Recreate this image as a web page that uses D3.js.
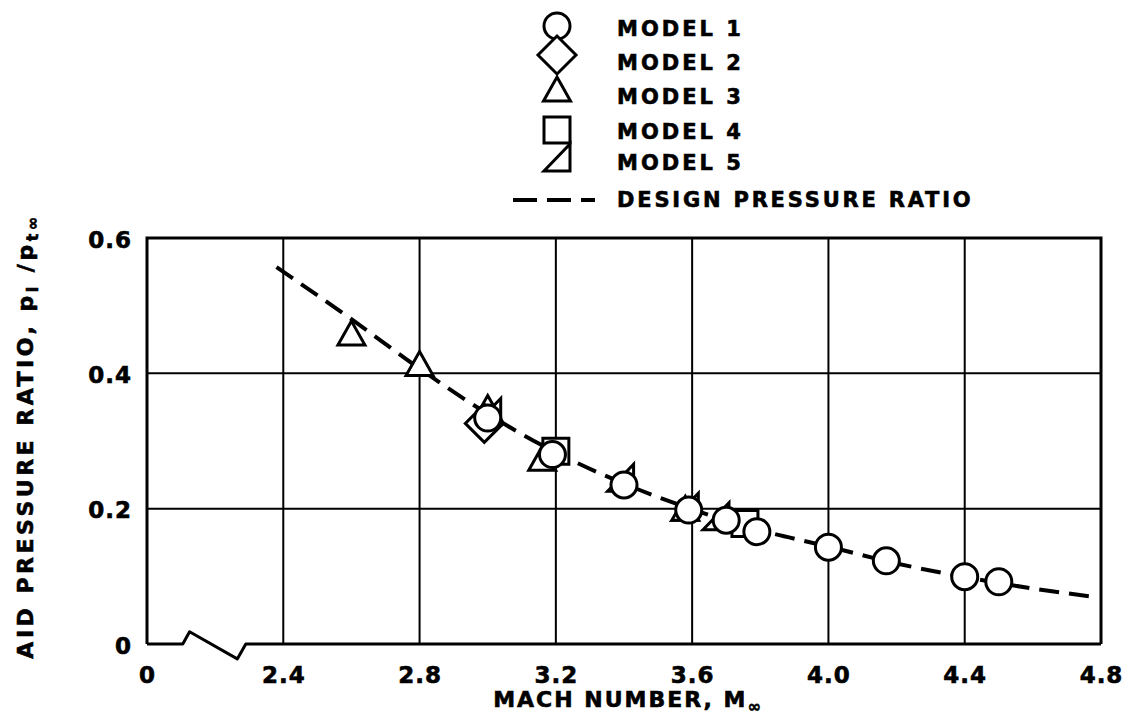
<!DOCTYPE html>
<meta charset="utf-8">
<style>
    html, body {
        margin: 0;
        background: white;
    }

    text {
        font-family: "DejaVu Sans", sans-serif;
        font-weight: bold;
        fill: black;
        stroke: black;
        stroke-width: 0.6px;
    }

    .grid line {
        stroke: black;
        stroke-width: 2;
    }

    .marker {
        fill: white;
        stroke: black;
        stroke-width: 3;
        stroke-linejoin: miter;
    }
</style>
<div id="chart"></div>
<script src="https://d3js.org/d3.v7.min.js"></script>
<script>
    // data
    var xTicks = [2.0, 2.4, 2.8, 3.2, 3.6, 4.0, 4.4, 4.8];
    var xTickLabels = ["0", "2.4", "2.8", "3.2", "3.6", "4.0", "4.4", "4.8"];
    var yTicks = [0, 0.2, 0.4, 0.6];
    var yTickLabels = ["0", "0.2", "0.4", "0.6"];

    var model1 = [[3.0, 0.334], [3.19, 0.28], [3.4, 0.235], [3.59, 0.198], [3.7, 0.183], [3.79, 0.166],
                  [4.0, 0.143], [4.17, 0.123], [4.4, 0.0995], [4.5, 0.092]];
    var model2 = [[2.99, 0.326]];
    var model3 = [[2.6, 0.455], [2.8, 0.41], [3.0, 0.345], [3.16, 0.27], [3.58, 0.196]];
    var model4 = [[3.2, 0.285], [3.755, 0.178]];
    var model5 = [[3.0, 0.342], [3.39, 0.245], [3.58, 0.202], [3.67, 0.188]];

    var designMach = [2.38, 2.6, 2.8, 3.0, 3.2, 3.4, 3.6, 3.8, 4.0, 4.2, 4.4, 4.6, 4.79];
    var designRatio = [0.557, 0.48, 0.407, 0.34, 0.283, 0.237, 0.199, 0.168, 0.144, 0.119, 0.099, 0.082, 0.069];

    // zig-zag axis break between 0 and 2.4
    var breakMach = [2.0, 2.105, 2.125, 2.265, 2.29, 4.8];
    var breakRatio = [0, 0, 0.018, -0.022, 0, 0];

    var legendLabels = ["MODEL 1", "MODEL 2", "MODEL 3", "MODEL 4", "MODEL 5", "DESIGN PRESSURE RATIO"];

    var width = 1130, height = 726;

    var svg = d3.select("#chart")
        .append("svg")
        .attr("width", width)
        .attr("height", height);

    svg.append("rect")
        .attr("width", width)
        .attr("height", height)
        .attr("fill", "white");

    var x = d3.scaleLinear().domain([2.0, 4.8]).range([147, 1101]);
    var y = d3.scaleLinear().domain([0, 0.6]).range([644, 238]);

    // marker shapes, drawn around 0,0
    var shapes = {
        circle: function(g) { g.append("circle").attr("class", "marker").attr("r", 13); },
        diamond: function(g) { g.append("path").attr("class", "marker").attr("d", "M0,-19L19,0L0,19L-19,0Z"); },
        triangle: function(g) { g.append("path").attr("class", "marker").attr("d", "M0,-15L13.5,9L-13.5,9Z"); },
        square: function(g) { g.append("path").attr("class", "marker").attr("d", "M-13,-13H13V13H-13Z"); },
        wedge: function(g) { g.append("path").attr("class", "marker").attr("d", "M13,-14V13H-13Z"); }
    };

    // grid lines
    var grid = svg.append("g").attr("class", "grid");
    grid.selectAll(".vx")
        .data(xTicks.slice(1, -1))
        .enter().append("line")
        .attr("x1", function(d) { return x(d); })
        .attr("x2", function(d) { return x(d); })
        .attr("y1", y(0))
        .attr("y2", y(0.6));
    grid.selectAll(".hy")
        .data(yTicks.slice(1, -1))
        .enter().append("line")
        .attr("x1", x(2.0))
        .attr("x2", x(4.8))
        .attr("y1", function(d) { return y(d); })
        .attr("y2", function(d) { return y(d); });

    // frame: left, top, right, and the broken bottom axis
    svg.append("path")
        .attr("d", "M" + x(2.0) + "," + y(0) + "V" + y(0.6) + "H" + x(4.8) + "V" + y(0))
        .attr("fill", "none")
        .attr("stroke", "black")
        .attr("stroke-width", 3);
    svg.append("path")
        .datum(d3.zip(breakMach, breakRatio))
        .attr("d", d3.line().x(function(d) { return x(d[0]); }).y(function(d) { return y(d[1]); }))
        .attr("fill", "none")
        .attr("stroke", "black")
        .attr("stroke-width", 3)
        .attr("stroke-linejoin", "round");

    // axes (labels only)
    var xAxis = svg.append("g")
        .attr("transform", "translate(0," + (y(0) + 28) + ")")
        .call(d3.axisBottom(x).tickValues(xTicks).tickSize(0)
            .tickFormat(function(d, i) { return xTickLabels[i]; }));
    var yAxis = svg.append("g")
        .attr("transform", "translate(" + (x(2.0) - 12) + ",0)")
        .call(d3.axisLeft(y).tickValues(yTicks).tickSize(0)
            .tickFormat(function(d, i) { return yTickLabels[i]; }));
    [xAxis, yAxis].forEach(function(a) {
        a.select(".domain").remove();
        a.selectAll("text")
            .attr("font-family", null)
            .attr("fill", null)
            .style("font-size", "23px")
            .style("letter-spacing", "1px");
    });
    xAxis.selectAll("text").attr("dy", "0.36em");
    yAxis.selectAll("text").attr("dy", "0.4em");

    // axis titles
    var xTitle = svg.append("text")
        .attr("x", (x(2.0) + x(4.8)) / 2 + 4)
        .attr("y", 707)
        .attr("text-anchor", "middle")
        .style("font-size", "22px")
        .style("letter-spacing", "2px");
    xTitle.append("tspan").text("MACH NUMBER, M");
    xTitle.append("tspan").attr("dy", 5).style("font-size", "16px").text("∞");

    var yTitle = svg.append("text")
        .attr("transform", "translate(33," + ((y(0) + y(0.6)) / 2 - 5) + ") rotate(-90)")
        .attr("text-anchor", "middle")
        .style("font-size", "22px")
        .style("letter-spacing", "3.5px");
    yTitle.append("tspan").text("AID PRESSURE RATIO,  p");
    yTitle.append("tspan").attr("dy", 5).style("font-size", "16px").text("i");
    yTitle.append("tspan").attr("dy", -5).text(" /p");
    yTitle.append("tspan").attr("dy", 5).style("font-size", "16px").text("t∞");

    // design pressure ratio curve
    svg.append("path")
        .datum(d3.zip(designMach, designRatio))
        .attr("d", d3.line().curve(d3.curveMonotoneX)
            .x(function(d) { return x(d[0]); })
            .y(function(d) { return y(d[1]); }))
        .attr("fill", "none")
        .attr("stroke", "black")
        .attr("stroke-width", 4)
        .attr("stroke-dasharray", "20,10");

    // data points, circles on top
    var series = [
        {data: model5, shape: "wedge"},
        {data: model4, shape: "square"},
        {data: model3, shape: "triangle"},
        {data: model2, shape: "diamond"},
        {data: model1, shape: "circle"}
    ];
    series.forEach(function(s) {
        svg.append("g").selectAll("g")
            .data(s.data)
            .enter().append("g")
            .attr("transform", function(d) { return "translate(" + x(d[0]) + "," + y(d[1]) + ")"; })
            .each(function() { shapes[s.shape](d3.select(this)); });
    });

    // legend
    var legendShapes = ["circle", "diamond", "triangle", "square", "wedge"];
    var legendRowY = [28, 62, 96, 131, 162, 199];
    var legendSymY = [26, 55, 92, 130, 158];
    var legend = svg.append("g");
    legendShapes.forEach(function(sh, i) {
        var g = legend.append("g").attr("transform", "translate(557," + legendSymY[i] + ")");
        shapes[sh](g);
    });
    legend.append("line")
        .attr("x1", 513).attr("x2", 595)
        .attr("y1", 200).attr("y2", 200)
        .attr("stroke", "black")
        .attr("stroke-width", 4)
        .attr("stroke-dasharray", "24,10");
    legend.selectAll("text")
        .data(legendLabels)
        .enter().append("text")
        .attr("x", 617)
        .attr("y", function(d, i) { return legendRowY[i]; })
        .attr("dy", "0.36em")
        .style("font-size", "21px")
        .style("letter-spacing", function(d, i) { return i < 5 ? "3px" : "2.8px"; })
        .text(function(d) { return d; });
</script>
